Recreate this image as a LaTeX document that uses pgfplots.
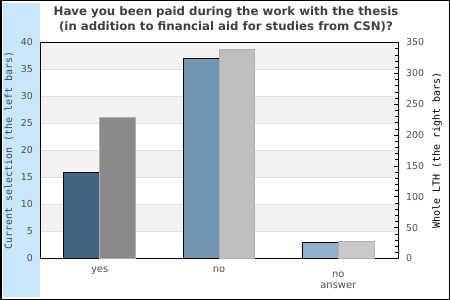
\documentclass[border=0pt]{standalone}
\usepackage{fontspec}
\setmainfont{DejaVu Sans}
\setmonofont{DejaVu Sans Mono}
\usepackage{pgfplots}
\pgfplotsset{compat=1.18}
\definecolor{bandblue}{HTML}{C8E6FC}
\definecolor{stripe}{HTML}{F2F2F2}
\definecolor{gridc}{HTML}{E0E0E0}
\definecolor{tickc}{HTML}{505050}
\definecolor{titlec}{HTML}{404040}
\definecolor{ylabc}{HTML}{3C4856}
\definecolor{bA}{HTML}{42647F}
\definecolor{bB}{HTML}{7396B0}
\definecolor{bC}{HTML}{8FB1CC}
\definecolor{gA}{HTML}{8A8A8A}
\definecolor{gB}{HTML}{BFBFBF}
\definecolor{gC}{HTML}{C9C9C9}
\definecolor{gbd}{HTML}{B0B0B0}
\begin{document}
\begin{tikzpicture}
\fill[white] (0,0) rectangle (450bp,300bp);
\fill[bandblue] (3bp,3bp) rectangle (40bp,297bp);
\node[anchor=north, inner sep=0pt, align=center, text=titlec,
  font=\fontsize{11.8}{15}\selectfont\bfseries] at (226bp,293.7bp)
  {Have you been paid during the work with the thesis\\(in addition to financial aid for studies from CSN)?};
\begin{axis}[
  at={(40bp,41.5bp)}, anchor=south west, scale only axis,
  width=358bp, height=216bp,
  xmin=-0.5, xmax=2.5, ymin=0, ymax=40,
  ybar, bar width=0.3, axis on top,
  axis line style={line width=0.8bp, black},
  ytick={0,5,...,40}, xtick={0,1,2},
  xticklabels={yes,no,{\rule{0pt}{10pt}no\\answer}},
  tick pos=left, major tick length=0pt,
  /pgf/number format/assume math mode=true,
  xticklabel style={align=center, font=\fontsize{10}{11}\selectfont, text=tickc, inner sep=0pt, yshift=-8.5bp},
  yticklabel style={font=\fontsize{9.5}{11}\selectfont, text=tickc, inner sep=0pt, xshift=-7bp},
  ylabel={Current selection (the left bars)},
  ylabel style={at={(axis description cs:-0.0866,0.5)}, anchor=center, rotate=0, font=\fontsize{10}{11}\ttfamily, text=ylabc},
]
\fill[stripe] (axis cs:-0.5,35) rectangle (axis cs:2.5,40);
\fill[stripe] (axis cs:-0.5,25) rectangle (axis cs:2.5,30);
\fill[stripe] (axis cs:-0.5,15) rectangle (axis cs:2.5,20);
\fill[stripe] (axis cs:-0.5,5) rectangle (axis cs:2.5,10);
\draw[gridc, line width=0.8bp] (axis cs:-0.5,5) -- (axis cs:2.5,5);
\draw[gridc, line width=0.8bp] (axis cs:-0.5,10) -- (axis cs:2.5,10);
\draw[gridc, line width=0.8bp] (axis cs:-0.5,15) -- (axis cs:2.5,15);
\draw[gridc, line width=0.8bp] (axis cs:-0.5,20) -- (axis cs:2.5,20);
\draw[gridc, line width=0.8bp] (axis cs:-0.5,25) -- (axis cs:2.5,25);
\draw[gridc, line width=0.8bp] (axis cs:-0.5,30) -- (axis cs:2.5,30);
\draw[gridc, line width=0.8bp] (axis cs:-0.5,35) -- (axis cs:2.5,35);
\addplot[bar shift=-0.15, fill=bA, draw=black, line width=0.8bp] coordinates {(0,16)};
\addplot[bar shift=-0.15, fill=bB, draw=black, line width=0.8bp] coordinates {(1,37)};
\addplot[bar shift=-0.15, fill=bC, draw=black, line width=0.8bp] coordinates {(2,3)};
\end{axis}
\begin{axis}[
  at={(40bp,41.5bp)}, anchor=south west, scale only axis,
  width=358bp, height=216bp,
  xmin=-0.5, xmax=2.5, ymin=0, ymax=350,
  ybar, bar width=0.3,
  axis x line=none, axis y line*=right,
  axis line style={line width=0.8bp, black},
  ytick={0,50,...,350}, minor ytick={10,20,...,340},
  tick align=inside, major tick length=4bp, minor tick length=3bp,
  tick style={black, line width=0.6bp},
  /pgf/number format/assume math mode=true,
  yticklabel style={font=\fontsize{9.5}{11}\selectfont, text=tickc, inner sep=0pt, xshift=8bp, anchor=west},
  ylabel={Whole LTH (the right bars)},
  ylabel style={at={(axis description cs:1.109,0.5)}, anchor=center, rotate=0, font=\fontsize{10}{11}\ttfamily, text=black},
]
\addplot[bar shift=0.15, fill=gA, draw=gbd, line width=0.8bp] coordinates {(0,228)};
\addplot[bar shift=0.15, fill=gB, draw=gbd, line width=0.8bp] coordinates {(1,339)};
\addplot[bar shift=0.15, fill=gC, draw=gbd, line width=0.8bp] coordinates {(2,27)};
\end{axis}
\draw[black, line width=1.5bp] (0.75bp,0.75bp) rectangle (449.25bp,299.25bp);
\end{tikzpicture}
\end{document}
